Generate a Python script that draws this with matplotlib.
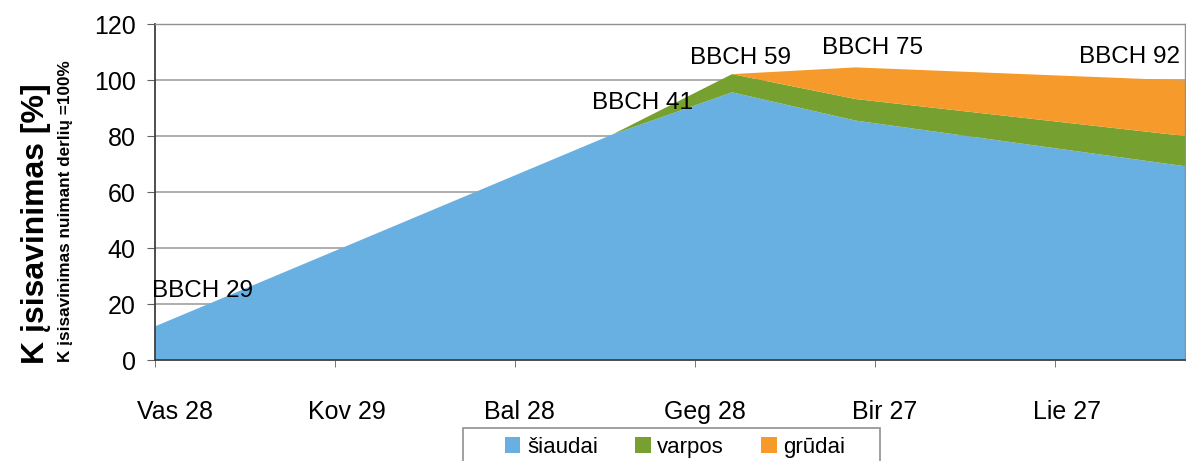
import matplotlib
matplotlib.use("Agg")
import matplotlib.pyplot as plt
from matplotlib.patches import Rectangle
from matplotlib.ticker import FixedLocator

plt.rcParams['font.family'] = ['Liberation Sans', 'DejaVu Sans']

# x in days-like units from "Vas 28"
days = [0, 76.2, 96.2, 116.8, 171.7]
siaudai = [12.0, 80.5, 95.6, 85.5, 69.2]
varpos = [0, 0, 6.5, 7.7, 10.8]
grudai = [0, 0, 0, 11.3, 19.8]
series_names = ["šiaudai", "varpos", "grūdai"]
colors = ["#68AFE2", "#76A130", "#F59A2B"]

tick_pos = [0, 30, 60, 90, 120, 150]
label_pos = [3.3, 32.0, 60.7, 91.7, 121.7, 152.0]
tick_labels = ["Vas 28", "Kov 29", "Bal 28", "Geg 28", "Bir 27", "Lie 27"]

stages = ["BBCH 29", "BBCH 41", "BBCH 59", "BBCH 75", "BBCH 92"]
stage_x = [-0.5, 72.8, 89.2, 111.2, 154.0]
stage_y = [24.6, 91.8, 107.9, 111.4, 108.2]

fig = plt.figure(figsize=(11.86, 4.61), dpi=100)
ax = fig.add_axes([155/1186, 1-360/461, 1030/1186, 336/461])

ax.stackplot(days, siaudai, varpos, grudai, colors=colors,
             labels=series_names, linewidth=0, zorder=2)

ax.set_xlim(0, 171.7)
ax.set_ylim(0, 120)
ax.set_yticks(range(0, 121, 20))
ax.yaxis.grid(True, color="#A0A0A0", linewidth=1.2, zorder=0)
ax.set_axisbelow(True)

ax.xaxis.set_major_locator(FixedLocator(label_pos))
ax.set_xticklabels(tick_labels)
ax.xaxis.set_minor_locator(FixedLocator(tick_pos))
ax.tick_params(axis="x", which="major", length=0, pad=29, labelsize=18)
ax.tick_params(axis="x", which="minor", length=5, color="#606060")
ax.tick_params(axis="y", length=6, color="#606060", labelsize=18, pad=8)

for s in ["left", "bottom"]:
    ax.spines[s].set_color("#404040")
    ax.spines[s].set_linewidth(1.3)
for s in ["top", "right"]:
    ax.spines[s].set_color("#909090")
    ax.spines[s].set_linewidth(1.0)

for txt, x, y in zip(stages, stage_x, stage_y):
    ax.text(x, y, txt, fontsize=17.5, ha="left", va="center", zorder=5,
            clip_on=False)

fig.text(36/1186, 1-224/461, "K įsisavinimas [%]", rotation=90,
         fontsize=23, fontweight="bold", ha="center", va="center")
fig.text(66/1186, 1-211/461, "K įsisavinimas nuimant derlių =100%",
         rotation=90, fontsize=12.3, fontweight="bold", ha="center", va="center")

leg = fig.legend(loc="upper center", bbox_to_anchor=(675/1186, 1-430/461),
                 ncol=3, frameon=False, fontsize=16,
                 handlelength=0.7, handleheight=0.7, handletextpad=0.3,
                 columnspacing=1.67, borderaxespad=0, borderpad=0.3)
fig.patches.append(Rectangle((463/1186, -0.05), 417/1186, 0.05 + 33/461,
                             transform=fig.transFigure, fill=False,
                             edgecolor="#909090", linewidth=1.2))

fig.savefig("out.png", dpi=100)
